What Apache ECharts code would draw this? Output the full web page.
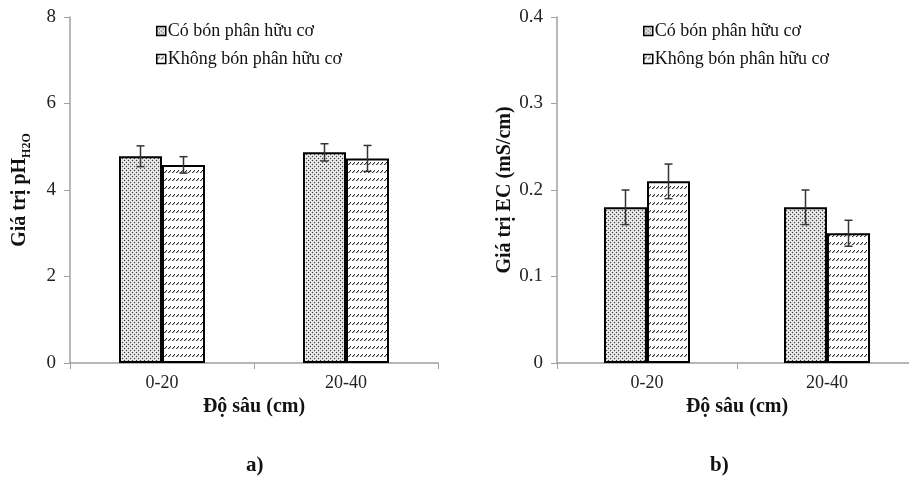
<!DOCTYPE html>
<html>
<head>
<meta charset="utf-8">
<script src="https://cdn.jsdelivr.net/npm/echarts@6/dist/echarts.min.js"></script>
<style>html,body{margin:0;padding:0;background:#fff}#c{width:909px;height:478px}</style>
</head>
<body>
<div id="c"></div>
<script>
// ---- data ----
var categories = ['0-20', '20-40'];
var seriesNames = ['Có bón phân hữu cơ', 'Không bón phân hữu cơ'];
var phCo = [4.78, 4.87];
var phCoErr = [0.24, 0.20];
var phKhong = [4.58, 4.73];
var phKhongErr = [0.19, 0.30];
var ecCo = [0.18, 0.18];
var ecCoErr = [0.02, 0.02];
var ecKhong = [0.21, 0.15];
var ecKhongErr = [0.02, 0.015];
var phTicks = [0, 2, 4, 6, 8];
var ecTicks = [0, 0.1, 0.2, 0.3, 0.4];

// ---- patterns ----
function dotPattern() {
  var c = document.createElement('canvas'); c.width = 4; c.height = 4;
  var g = c.getContext('2d');
  g.fillStyle = '#f6f6f6'; g.fillRect(0, 0, 4, 4);
  g.fillStyle = '#cccccc';
  g.fillRect(1, 0, 1, 1); g.fillRect(3, 0, 1, 1);
  g.fillRect(0, 1, 1, 1); g.fillRect(2, 1, 1, 1);
  g.fillRect(1, 2, 1, 1); g.fillRect(3, 2, 1, 1);
  g.fillRect(0, 3, 1, 1); g.fillRect(2, 3, 1, 1);
  g.fillStyle = '#444'; g.fillRect(0, 0, 1, 1); g.fillRect(2, 2, 1, 1);
  return c;
}
function hatchPattern() {
  var c = document.createElement('canvas'); c.width = 4; c.height = 8;
  var g = c.getContext('2d');
  g.fillStyle = '#fff'; g.fillRect(0, 0, 4, 8);
  g.fillStyle = '#3a3a3a';
  g.fillRect(0, 4, 1, 1); g.fillRect(1, 3, 1, 1); g.fillRect(2, 2, 1, 1);
  g.fillStyle = '#a8a8a8';
  g.fillRect(1, 4, 1, 1); g.fillRect(2, 3, 1, 1);
  return c;
}
var dotFill = { image: dotPattern(), repeat: 'repeat' };
var hatchFill = { image: hatchPattern(), repeat: 'repeat' };

var BAR_W = 43;
var serif = 'Liberation Serif, Times New Roman, serif';

function errSeries(name, xi, vals, errs, side) {
  return {
    type: 'custom', name: name, xAxisIndex: xi, yAxisIndex: xi, z: 10,
    data: vals.map(function (v, i) { return [i, v, errs[i]]; }),
    renderItem: function (params, api) {
      var i = api.value(0), v = api.value(1), e = api.value(2);
      var top = api.coord([i, v + e]);
      var bot = api.coord([i, v - e]);
      var x = top[0] + side * BAR_W / 2;
      var cap = 4;
      var st = { stroke: '#333', lineWidth: 1.5 };
      return { type: 'group', children: [
        { type: 'line', shape: { x1: x, y1: top[1], x2: x, y2: bot[1] }, style: st },
        { type: 'line', shape: { x1: x - cap, y1: top[1], x2: x + cap, y2: top[1] }, style: st },
        { type: 'line', shape: { x1: x - cap, y1: bot[1], x2: x + cap, y2: bot[1] }, style: st }
      ]};
    },
    silent: true, legendHoverLink: false
  };
}

function barSeries(name, xi, vals, fill) {
  return {
    type: 'bar', name: name, xAxisIndex: xi, yAxisIndex: xi,
    data: vals, barWidth: BAR_W, barGap: '0%',
    itemStyle: { color: fill, borderColor: '#000', borderWidth: 2 }
  };
}

function xAxis(gi) {
  return {
    type: 'category', gridIndex: gi, data: categories,
    axisLine: { lineStyle: { color: '#a0a0a0', width: 1.5 } },
    axisTick: { show: true, length: 6, lineStyle: { color: '#a0a0a0' } },
    axisLabel: { fontFamily: serif, fontSize: 18, color: '#222', margin: 11 },
    name: 'Độ sâu (cm)', nameLocation: 'middle', nameGap: 32,
    nameTextStyle: { fontFamily: serif, fontSize: 20, fontWeight: 'bold', color: '#111' }
  };
}

function yAxis(gi, ticks, nameRich, nameGap) {
  return {
    type: 'value', gridIndex: gi, min: ticks[0], max: ticks[ticks.length - 1],
    interval: ticks[1] - ticks[0],
    splitLine: { show: false },
    axisLine: { show: true, lineStyle: { color: '#a0a0a0', width: 1.5 } },
    axisTick: { show: true, length: 6, lineStyle: { color: '#a0a0a0' } },
    axisLabel: { fontFamily: serif, fontSize: 19, color: '#222', margin: 14 },
    name: nameRich, nameLocation: 'middle', nameGap: nameGap,
    nameTextStyle: {
      fontFamily: serif, fontSize: 20, fontWeight: 'bold', color: '#111',
      rich: {
        a: { fontFamily: serif, fontSize: 20, fontWeight: 'bold', color: '#111', verticalAlign: 'bottom', lineHeight: 24 },
        s: { fontFamily: serif, fontSize: 12, fontWeight: 'bold', color: '#111', verticalAlign: 'bottom', lineHeight: 24, padding: [0, 0, -3, 0] }
      }
    }
  };
}

function legend(left) {
  return {
    orient: 'vertical', left: left, top: 17, itemGap: 10,
    itemWidth: 9, itemHeight: 9, icon: 'rect',
    data: seriesNames,
    itemStyle: { borderColor: '#000', borderWidth: 1.5 },
    textStyle: { fontFamily: serif, fontSize: 18, color: '#111', padding: [0, 0, 0, -3] },
    selectedMode: false
  };
}

var chart = echarts.init(document.getElementById('c'), null, { renderer: 'canvas' });
chart.setOption({
  animation: false,
  backgroundColor: '#fff',
  grid: [
    { left: 70, top: 17, width: 368, bottom: 115, outerBoundsMode: 'none' },
    { left: 557, top: 17, width: 360, bottom: 115, outerBoundsMode: 'none' }
  ],
  xAxis: [xAxis(0), xAxis(1)],
  yAxis: [
    yAxis(0, phTicks, '{a|Giá trị pH}{s|H2O}', 40),
    yAxis(1, ecTicks, '{a|Giá trị EC (mS/cm)}', 42)
  ],
  legend: [legend(151), legend(638)],
  series: [
    barSeries(seriesNames[0], 0, phCo, dotFill),
    barSeries(seriesNames[1], 0, phKhong, hatchFill),
    errSeries(seriesNames[0], 0, phCo, phCoErr, -1),
    errSeries(seriesNames[1], 0, phKhong, phKhongErr, 1),
    barSeries(seriesNames[0], 1, ecCo, dotFill),
    barSeries(seriesNames[1], 1, ecKhong, hatchFill),
    errSeries(seriesNames[0], 1, ecCo, ecCoErr, -1),
    errSeries(seriesNames[1], 1, ecKhong, ecKhongErr, 1)
  ],
  graphic: [
    { type: 'text', left: 246, top: 455, style: { text: 'a)', font: 'bold 21px ' + serif, fill: '#111' } },
    { type: 'text', left: 710, top: 455, style: { text: 'b)', font: 'bold 21px ' + serif, fill: '#111' } }
  ]
});
</script>
</body>
</html>
